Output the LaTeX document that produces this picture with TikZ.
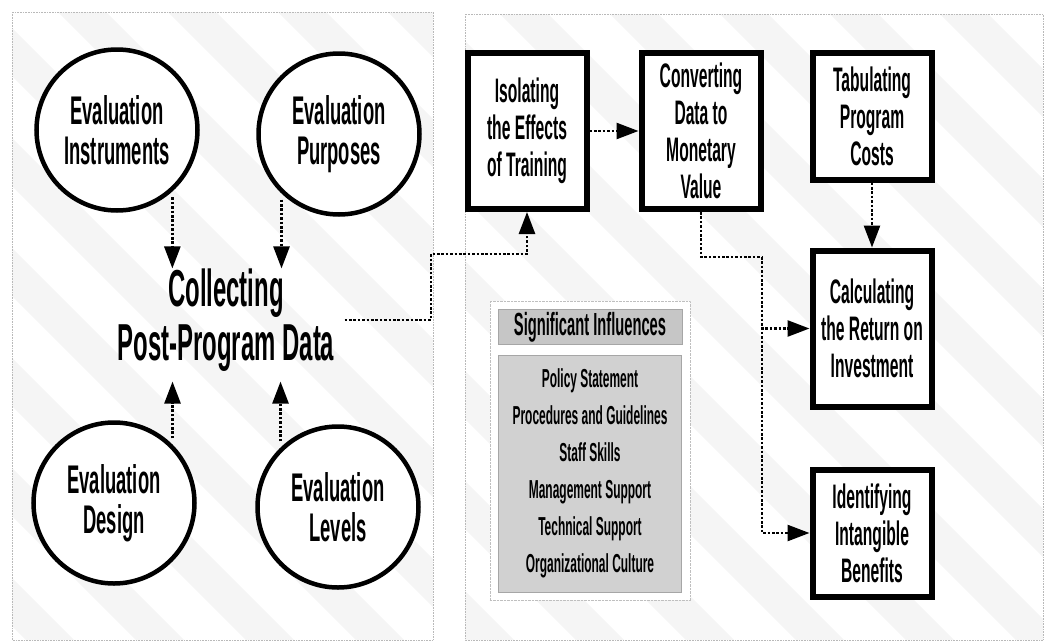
\documentclass[tikz,border=0pt]{standalone}
\usepackage{fontspec}
\newfontfamily\condfont[FakeStretch=0.46]{Liberation Sans}
\usetikzlibrary{positioning,arrows.meta,fit,backgrounds}

\begin{document}
\begin{tikzpicture}[
  x=1pt, y=-1pt,
  evalcirc/.style={circle, draw, line width=4.5pt, fill=white, minimum size=161pt,
                   inner sep=0pt, align=center,
                   font=\condfont\bfseries\fontsize{40}{40}\selectfont},
  stepbox/.style={rectangle, draw, line width=6pt, fill=white, minimum width=119pt,
                  minimum height=156pt, inner sep=0pt, align=center,
                  font=\condfont\bfseries\fontsize{34}{37}\selectfont},
  shortbox/.style={stepbox, minimum height=127pt},
  link/.style={line width=2.6pt, dash pattern=on 2.6pt off 1.8pt},
  flow/.style={link, -{Triangle[length=22pt,width=16pt]}},
  infl/.style={rectangle, draw=gray!70, fill=gray!36, line width=0.6pt, align=center,
               inner sep=0pt, font=\condfont\bfseries\fontsize{26}{37}\selectfont},
  band/.style={line width=34pt, gray!8},
  panel/.style={draw=gray!55, line width=0.6pt, densely dotted}
]
\useasboundingbox (0,0) rectangle (1045,643);

% left panel
\node[evalcirc] (ins) at (117,130) {Evaluation\\Instruments};
\node[evalcirc] (pur) at (339,134) {Evaluation\\Purposes};
\node[evalcirc] (des) at (114,503) {Evaluation\\Design};
\node[evalcirc] (lev) at (338,507) {Evaluation\\Levels};
\node[align=center, inner xsep=10pt, inner ysep=0pt,
      font=\condfont\bfseries\fontsize{52}{54}\selectfont]
  (collect) at (226,320) {Collecting\\Post-Program Data};
\draw[flow, shorten <=6pt] (ins.-48) -- (ins.-48 |- collect.north);
\draw[flow, shorten <=6pt] (pur.-134) -- (pur.-134 |- collect.north);
\draw[flow, shorten <=6pt, shorten >=10pt] (des.45) -- (des.45 |- collect.south);
\draw[flow, shorten <=6pt, shorten >=10pt] (lev.134) -- (lev.134 |- collect.south);

% right panel
\node[stepbox] (isol) at (527,131) {Isolating\\the Effects\\of Training};
\node[stepbox, right=49pt of isol] (conv) {Converting\\Data to\\Monetary\\Value};
\node[shortbox] (tab) at (872,116) {Tabulating\\Program\\Costs};
\node[stepbox, below=65pt of tab] (calc) {Calculating\\the Return on\\Investment};
\node[shortbox, below=57pt of calc] (ident) {Identifying\\Intangible\\Benefits};

\node[infl, minimum width=184pt, minimum height=35pt, fill=gray!45,
      font=\condfont\bfseries\fontsize{32}{30}\selectfont] (infhead) at (590,327)
  {Significant Influences};
\node[infl, minimum width=183pt, minimum height=237pt, below=10pt of infhead] (infbody)
  {Policy Statement\\Procedures and Guidelines\\Staff Skills\\Management Support\\Technical Support\\Organizational Culture};

\coordinate (turn) at (431,254);
\coordinate (split) at (762,257);
\draw[flow] (collect.east) -| (turn) -| (isol.south);
\draw[flow] (isol) -- (conv);
\draw[flow] (tab) -- (calc);
\draw[link] (conv.south) |- (split);
\draw[flow] (split) |- (calc.west);
\draw[flow] (split) |- (ident.west);

\begin{pgfonlayer}{background}
  \begin{scope}
    \clip (12,12) rectangle (433,640) (465,14) rectangle (1043,640);
    \foreach \s in {-700,-590,...,1050}
      \draw[band] (\s,0) -- ++(660,660);
  \end{scope}
  \draw[panel] (12,12) rectangle (433,640);
  \draw[panel] (465,14) rectangle (1043,640);
  \node[fit=(infhead)(infbody), inner sep=8pt, fill=white, draw=gray!50,
        densely dotted] (infframe) {};
\end{pgfonlayer}
\end{tikzpicture}
\end{document}
